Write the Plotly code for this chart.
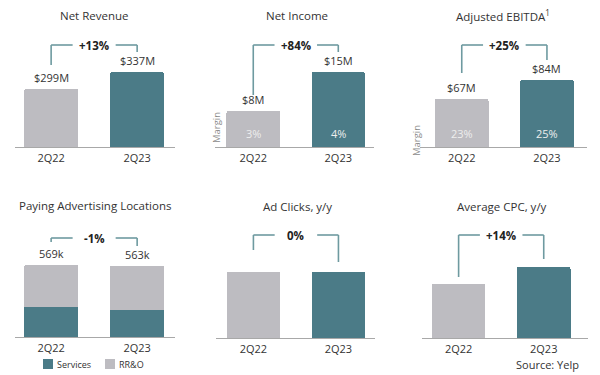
import plotly.graph_objects as go

W, H = 600, 375

periods = ["2Q22", "2Q23"]

revenue = [299, 337]
revenue_labels = ["$299M", "$337M"]
revenue_change = "+13%"

net_income = [8, 15]
net_income_labels = ["$8M", "$15M"]
net_income_margin = ["3%", "4%"]
net_income_change = "+84%"

ebitda = [67, 84]
ebitda_labels = ["$67M", "$84M"]
ebitda_margin = ["23%", "25%"]
ebitda_change = "+25%"

services_locs = [240, 215]
rro_locs = [329, 348]
locs_labels = ["569k", "563k"]
locs_change = "-1%"

ad_clicks = [100, 100]
ad_clicks_change = "0%"

cpc = [100, 114]
cpc_change = "+14%"

GRAY = "#bdbcc1"
TEAL = "#4b7b87"
BRACKET = "#6e9aa0"
TEXT = "#333333"
FONT = "Open Sans"


def px2py(p):
    return 1 - p / H


# panel geometry: x axis pixel extents, x range, baseline px, top px, y range
panels = [
    dict(x=(15, 175), xr=[-0.42, 1.44], base=147, top=40, yr=[169, 409]),
    dict(x=(215, 374), xr=[-0.45, 1.42], base=147, top=40, yr=[1.5, 20.8]),
    dict(x=(420, 587), xr=[-0.49, 1.47], base=147, top=40, yr=[24, 119.9]),
    dict(x=(15, 175), xr=[-0.42, 1.44], base=337, top=230, yr=[0, 846]),
    dict(x=(216, 375), xr=[-0.44, 1.43], base=338, top=231, yr=[0, 162]),
    dict(x=(422, 588), xr=[-0.43, 1.52], base=338, top=231, yr=[55.5, 143.7]),
]

fig = go.Figure()
layout = {}
for i, p in enumerate(panels):
    n = "" if i == 0 else str(i + 1)
    layout["xaxis" + n] = dict(
        domain=[p["x"][0] / W, p["x"][1] / W], range=p["xr"], anchor="y" + n,
        type="category", showline=True, linecolor="#a8a8a8", linewidth=1.2,
        ticks="", showgrid=False, zeroline=False, fixedrange=True,
        tickfont=dict(family=FONT, size=11, color=TEXT), ticklabelstandoff=1,
    )
    layout["yaxis" + n] = dict(
        domain=[px2py(p["base"]), px2py(p["top"])], range=p["yr"], anchor="x" + n,
        visible=False, showgrid=False, zeroline=False, fixedrange=True,
    )

bar_common = dict(width=0.63, marker_line_width=0, showlegend=False, hoverinfo="skip")


def add_pair(vals, k):
    n = "" if k == 1 else str(k)
    fig.add_trace(go.Bar(x=periods, y=vals, marker_color=[GRAY, TEAL],
                         xaxis="x" + n, yaxis="y" + n, **bar_common))


add_pair(revenue, 1)
add_pair(net_income, 2)
add_pair(ebitda, 3)
fig.add_trace(go.Bar(x=periods, y=services_locs, name="Services", marker_color=TEAL,
                     xaxis="x4", yaxis="y4", **bar_common))
fig.add_trace(go.Bar(x=periods, y=rro_locs, name="RR&O", marker_color=GRAY,
                     xaxis="x4", yaxis="y4", **bar_common))
add_pair(ad_clicks, 5)
add_pair(cpc, 6)

annotations = []
shapes = []

titles = [
    ("Net Revenue", 94, 16), ("Net Income", 297, 16), ("Adjusted EBITDA<sup>1</sup>", 503, 15),
    ("Paying Advertising Locations", 95, 205), ("Ad Clicks, y/y", 297, 206), ("Average CPC, y/y", 502, 206),
]
for t, x, y in titles:
    annotations.append(dict(text=t, x=x / W, y=px2py(y), xref="paper", yref="paper",
                            showarrow=False, xanchor="center", yanchor="middle",
                            font=dict(family=FONT, size=11.5, color=TEXT)))


def value_labels(labels, vals, k):
    n = "" if k == 1 else str(k)
    for c, lab, v in zip(periods, labels, vals):
        annotations.append(dict(text=lab, x=c, y=v, xref="x" + n, yref="y" + n,
                                showarrow=False, yanchor="bottom", yshift=2,
                                font=dict(family=FONT, size=11, color=TEXT)))


value_labels(revenue_labels, revenue, 1)
value_labels(net_income_labels, net_income, 2)
value_labels(ebitda_labels, ebitda, 3)
value_labels(locs_labels, [a + b for a, b in zip(services_locs, rro_locs)], 4)


def margins(labels, k, yr0):
    n = str(k)
    for c, lab in zip(periods, labels):
        annotations.append(dict(text=lab, x=c, y=yr0, xref="x" + n, yref="y" + n,
                                showarrow=False, yanchor="bottom", yshift=4,
                                font=dict(family=FONT, size=11, color="#eeeeee")))


margins(net_income_margin, 2, panels[1]["yr"][0])
margins(ebitda_margin, 3, panels[2]["yr"][0])

for x, y in [(217, 128), (425, 123)]:
    annotations.append(dict(text="Margin", x=x / W, y=px2py(y), xref="paper", yref="paper",
                            showarrow=False, textangle=-90,
                            font=dict(family=FONT, size=9.5, color="#8a8a8a")))

# brackets: (panel, change text, top px, left bottom px, right bottom px)
brackets = [
    (1, revenue_change, 45, 65, 52),
    (2, net_income_change, 45, 95, 52),
    (3, ebitda_change, 45, 73, 60),
    (4, locs_change, 238, 242, 246),
    (5, ad_clicks_change, 235, 250, 262),
    (6, cpc_change, 235, 277, 259),
]
for k, txt, top, lb, rb in brackets:
    n = "" if k == 1 else str(k)
    xr = "x" + n
    line = dict(color=BRACKET, width=1.6)
    ty = px2py(top)
    shapes.append(dict(type="line", xref=xr, yref="paper", x0=0, x1=0, y0=px2py(lb), y1=ty, line=line))
    shapes.append(dict(type="line", xref=xr, yref="paper", x0=0, x1=0.25, y0=ty, y1=ty, line=line))
    shapes.append(dict(type="line", xref=xr, yref="paper", x0=0.75, x1=1, y0=ty, y1=ty, line=line))
    shapes.append(dict(type="line", xref=xr, yref="paper", x0=1, x1=1, y0=ty, y1=px2py(rb), line=line))
    annotations.append(dict(text="<b>" + txt + "</b>", x=0.5, y=ty, xref=xr, yref="paper",
                            showarrow=False, yanchor="middle",
                            font=dict(family=FONT, size=11.5, color="#222222")))

# legend (manual)
for x0, col, lab in [(43, TEAL, "Services"), (105, GRAY, "RR&O")]:
    shapes.append(dict(type="rect", xref="paper", yref="paper", x0=x0 / W, x1=(x0 + 10) / W,
                       y0=px2py(369), y1=px2py(359), fillcolor=col, line_width=0))
    annotations.append(dict(text=lab, x=(x0 + 12) / W, y=px2py(364), xref="paper", yref="paper",
                            showarrow=False, xanchor="left", yanchor="middle",
                            font=dict(family=FONT, size=9, color=TEXT)))

annotations.append(dict(text="Source: Yelp", x=581 / W, y=px2py(364), xref="paper", yref="paper",
                        showarrow=False, xanchor="right", yanchor="middle",
                        font=dict(family=FONT, size=11, color=TEXT)))

fig.update_layout(
    width=W, height=H, margin=dict(l=0, r=0, t=0, b=0),
    paper_bgcolor="white", plot_bgcolor="white", barmode="stack", barcornerradius=2,
    showlegend=False, annotations=annotations, shapes=shapes,
    font=dict(family=FONT, color=TEXT), **layout,
)

fig.write_html("out.html", config={"displayModeBar": False},
               post_script="document.body.style.margin='0';document.body.style.overflow='hidden';")
